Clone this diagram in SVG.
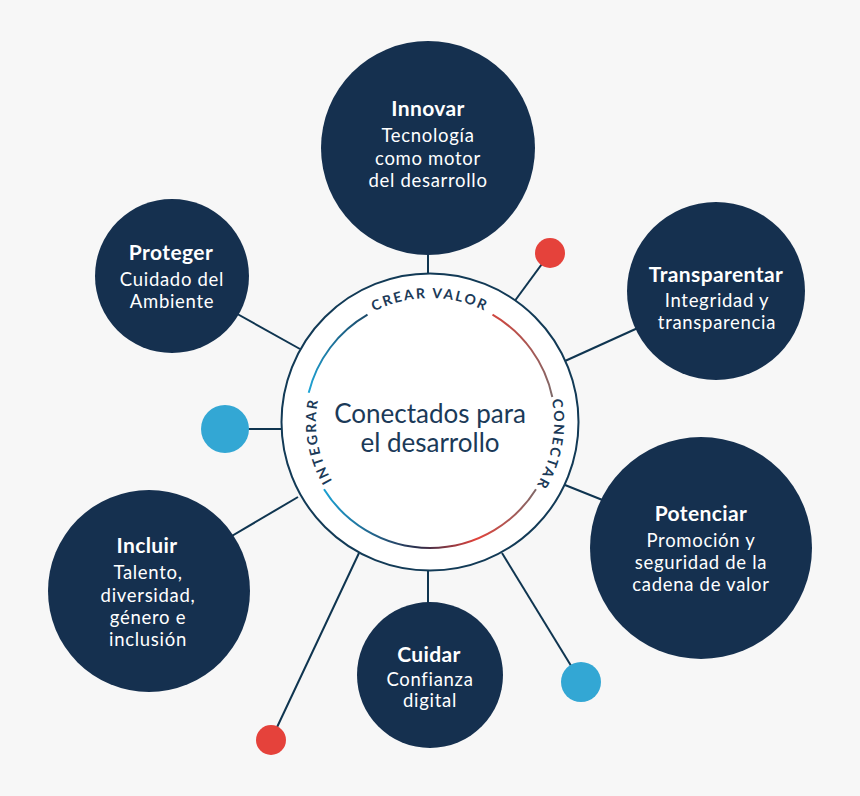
<svg xmlns="http://www.w3.org/2000/svg" width="860" height="796" viewBox="0 0 860 796">
<defs>
<style>
.node{fill:#15304f}
.t{font-family:Lato,"Open Sans","Liberation Sans",sans-serif;fill:#ffffff;text-anchor:middle}
.h{font-weight:bold;font-size:21px;letter-spacing:0.4px}
.b{font-size:18.5px;letter-spacing:0.7px}
.conn line{stroke:#0f3550;stroke-width:2}
.ring{font-family:Lato,"Liberation Sans",sans-serif;font-size:14px;font-weight:bold;letter-spacing:2px;fill:#1b3a58;text-anchor:middle}
</style>
<linearGradient id="gTL" gradientUnits="userSpaceOnUse" x1="308" y1="393" x2="367" y2="315">
<stop offset="0" stop-color="#1fa6d8"/><stop offset="1" stop-color="#1c4a6a"/>
</linearGradient>
<linearGradient id="gTR" gradientUnits="userSpaceOnUse" x1="492" y1="315" x2="552" y2="397">
<stop offset="0" stop-color="#d0463f"/><stop offset="1" stop-color="#7d6a6a"/>
</linearGradient>
<linearGradient id="gB" gradientUnits="userSpaceOnUse" x1="324" y1="0" x2="536" y2="0">
<stop offset="0" stop-color="#1aa0d2"/><stop offset="0.45" stop-color="#2b2b48"/><stop offset="0.72" stop-color="#e2433b"/><stop offset="1" stop-color="#806868"/>
</linearGradient>
<path id="pA" d="M430,546 A124,124 0 1 1 430,298 A124,124 0 1 1 430,546"/>
<path id="pB" d="M430,536 A114,114 0 1 1 430,308 A114,114 0 1 1 430,536"/>
</defs>
<rect width="860" height="796" fill="#f7f7f7"/>
<g id="connectors" class="conn">
<line x1="428" y1="250" x2="428" y2="276"/>
<line x1="550" y1="253" x2="514" y2="302"/>
<line x1="640" y1="327" x2="565" y2="361"/>
<line x1="610" y1="503" x2="565" y2="485"/>
<line x1="428" y1="568" x2="428" y2="610"/>
<line x1="581" y1="682" x2="502" y2="553"/>
<line x1="271" y1="740" x2="359" y2="553"/>
<line x1="225" y1="540" x2="298" y2="497"/>
<line x1="225" y1="429" x2="284" y2="429"/>
<line x1="232" y1="311" x2="300" y2="349"/>
</g>
<g id="center">
<circle cx="430" cy="422" r="148.5" fill="#ffffff" stroke="#123a56" stroke-width="2"/>
<path d="M308.7,392.8 A125,125 0 0 1 367.5,314.7" fill="none" stroke="url(#gTL)" stroke-width="2"/>
<path d="M492.5,314.7 A125,125 0 0 1 552.3,397" fill="none" stroke="url(#gTR)" stroke-width="2"/>
<path d="M536,489.2 A125,125 0 0 1 324,489.2" fill="none" stroke="url(#gB)" stroke-width="2"/>
<text class="ring"><textPath href="#pA" startOffset="50%">CREAR VALOR</textPath></text>
<text class="ring"><textPath href="#pA" startOffset="77.9%">CONECTAR</textPath></text>
<text class="ring"><textPath href="#pB" startOffset="22.3%">INTEGRAR</textPath></text>
<text font-family="Lato,'Open Sans','Liberation Sans',sans-serif" font-size="26" fill="#1b3a58" text-anchor="middle"><tspan x="430" y="423">Conectados para</tspan><tspan x="430" y="452">el desarrollo</tspan></text>
</g>
<g id="dots">
<circle cx="550" cy="253" r="15" fill="#e5423b"/>
<circle cx="225" cy="429" r="24" fill="#33a7d4"/>
<circle cx="581" cy="682" r="20" fill="#33a7d4"/>
<circle cx="271" cy="740" r="15" fill="#e5423b"/>
</g>
<g id="innovar">
<circle class="node" cx="428" cy="148" r="107"/>
<text class="t h" x="428" y="116">Innovar</text>
<text class="t b"><tspan x="428" y="142">Tecnología</tspan><tspan x="428" y="165">como motor</tspan><tspan x="428" y="187">del desarrollo</tspan></text>
</g>
<g id="proteger">
<circle class="node" cx="172" cy="276" r="77"/>
<text class="t h" x="171" y="260">Proteger</text>
<text class="t b"><tspan x="172" y="286">Cuidado del</tspan><tspan x="172" y="308">Ambiente</tspan></text>
</g>
<g id="transparentar">
<circle class="node" cx="716" cy="291" r="89"/>
<text class="t h" x="716" y="282">Transparentar</text>
<text class="t b" letter-spacing="1.1"><tspan x="717" y="307">Integridad y</tspan><tspan x="717" y="329">transparencia</tspan></text>
</g>
<g id="potenciar">
<circle class="node" cx="701" cy="548" r="111"/>
<text class="t h" x="701" y="521">Potenciar</text>
<text class="t b"><tspan x="701" y="547">Promoción y</tspan><tspan x="701" y="569">seguridad de la</tspan><tspan x="701" y="591">cadena de valor</tspan></text>
</g>
<g id="cuidar">
<circle class="node" cx="430" cy="675" r="73"/>
<text class="t h" x="429" y="662">Cuidar</text>
<text class="t b"><tspan x="430" y="686">Confianza</tspan><tspan x="430" y="707">digital</tspan></text>
</g>
<g id="incluir">
<circle class="node" cx="149" cy="591" r="101"/>
<text class="t h" x="147" y="553">Incluir</text>
<text class="t b"><tspan x="148" y="579">Talento,</tspan><tspan x="148" y="602">diversidad,</tspan><tspan x="148" y="624">género e</tspan><tspan x="148" y="646">inclusión</tspan></text>
</g>
</svg>
